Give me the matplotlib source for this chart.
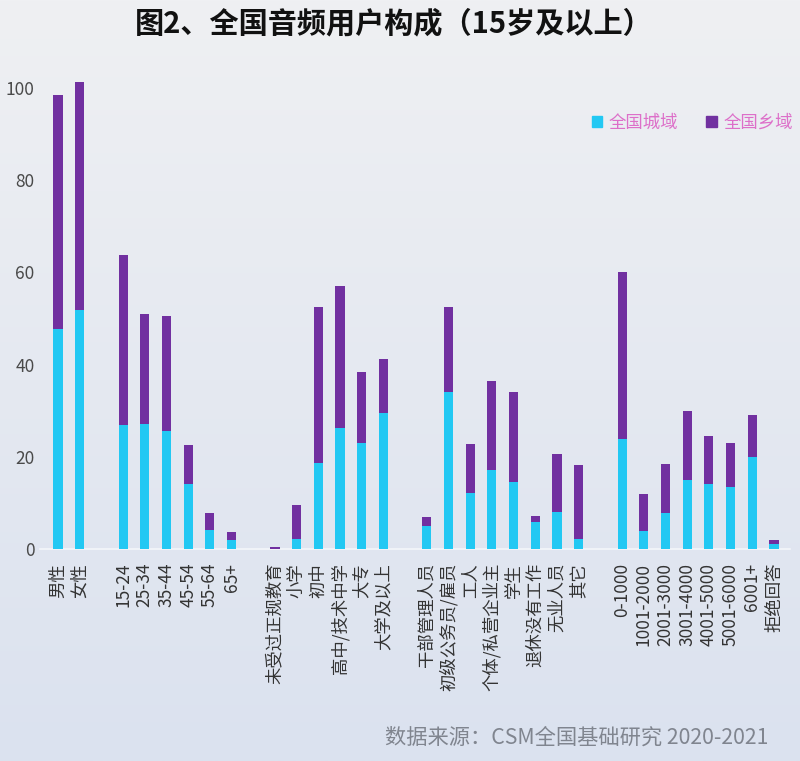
import numpy as np
import matplotlib
matplotlib.use("Agg")
import matplotlib.pyplot as plt
from matplotlib.patches import Patch

plt.rcParams['font.family'] = ['Noto Sans CJK SC', 'DejaVu Sans']

# Categories (None = empty spacer slot between groups)
categories = ["男性", "女性", None,
              "15-24", "25-34", "35-44", "45-54", "55-64", "65+", None,
              "未受过正规教育", "小学", "初中", "高中/技术中学", "大专", "大学及以上", None,
              "干部管理人员", "初级公务员/雇员", "工人", "个体/私营企业主", "学生", "退休没有工作", "无业人员", "其它", None,
              "0-1000", "1001-2000", "2001-3000", "3001-4000", "4001-5000", "5001-6000", "6001+", "拒绝回答"]

urban = [47.8, 51.9, None,
         26.8, 27.1, 25.5, 14.1, 4.1, 1.95, None,
         0.1, 2.2, 18.6, 26.2, 23.0, 29.5, None,
         4.9, 34.1, 12.1, 17.1, 14.5, 5.9, 8.0, 2.2, None,
         23.9, 3.8, 7.7, 14.9, 14.1, 13.4, 19.9, 1.15]

total = [98.4, 101.4, None,
         63.7, 51.0, 50.5, 22.5, 7.9, 3.6, None,
         0.5, 9.6, 52.6, 57.0, 38.4, 41.3, None,
         6.9, 52.6, 22.8, 36.5, 34.1, 7.1, 20.5, 18.3, None,
         60.2, 11.9, 18.4, 29.9, 24.5, 23.0, 29.1, 2.0]

series_names = ["全国城域", "全国乡域"]
title = "图2、全国音频用户构成（15岁及以上）"
source = "数据来源：CSM全国基础研究 2020-2021"
yticks = [0, 20, 40, 60, 80, 100]

c_urban = "#22C8F3"
c_rural = "#7130A0"

fig = plt.figure(figsize=(8, 7.61), dpi=100)

# background gradient
bg = fig.add_axes([0, 0, 1, 1], zorder=-10)
grad = np.linspace(0, 1, 256).reshape(-1, 1)
top = np.array([0xEF, 0xF0, 0xF3]) / 255
bot = np.array([0xDB, 0xE2, 0xEF]) / 255
img = top[None, None, :] * (1 - grad[:, :, None]) + bot[None, None, :] * grad[:, :, None]
bg.imshow(img, aspect='auto', extent=[0, 1, 0, 1])
bg.axis('off')

ax = fig.add_axes([0.05, 0.2786, 0.9375, 0.6299])
ax.set_facecolor('none')

idx = [i for i, c in enumerate(categories) if c is not None]
u = np.array([urban[i] for i in idx])
t = np.array([total[i] for i in idx])
r = t - u
x = np.array(idx, dtype=float)
w = 0.42
ax.bar(x, u, width=w, color=c_urban, label=series_names[0], zorder=3)
ax.bar(x, r, width=w, bottom=u, color=c_rural, label=series_names[1], zorder=3)

ax.set_xlim(-0.83, 33.74)
ax.set_ylim(0, 104)
ax.set_yticks(yticks)
ax.set_yticklabels([str(v) for v in yticks], fontsize=12.5, color="#4A4A4A")
ax.tick_params(axis='y', length=0, pad=4)
ax.set_xticks(x)
ax.set_xticklabels([categories[i] for i in idx], rotation=90, fontsize=12.5, color="#333333")
ax.tick_params(axis='x', length=0, pad=10)
for s in ['top', 'right', 'left']:
    ax.spines[s].set_visible(False)
ax.spines['bottom'].set_color('#F4F6FA')
ax.spines['bottom'].set_linewidth(1.2)

handles = [Patch(color=c_urban), Patch(color=c_rural)]
leg = ax.legend(handles, series_names, loc='upper right', bbox_to_anchor=(1.025, 0.94),
                frameon=False, ncol=2, fontsize=12.5, handlelength=0.6, handleheight=0.6,
                handletextpad=0.4, columnspacing=1.6, labelcolor="#DD6FC9")

fig.text(0.4925, 0.969, title, ha='center', va='center', fontsize=21, fontweight='bold', color="#111111")
fig.text(0.96, 0.031, source, ha='right', va='center', fontsize=15.3, color="#80858F")

fig.savefig("out.png", dpi=100)
